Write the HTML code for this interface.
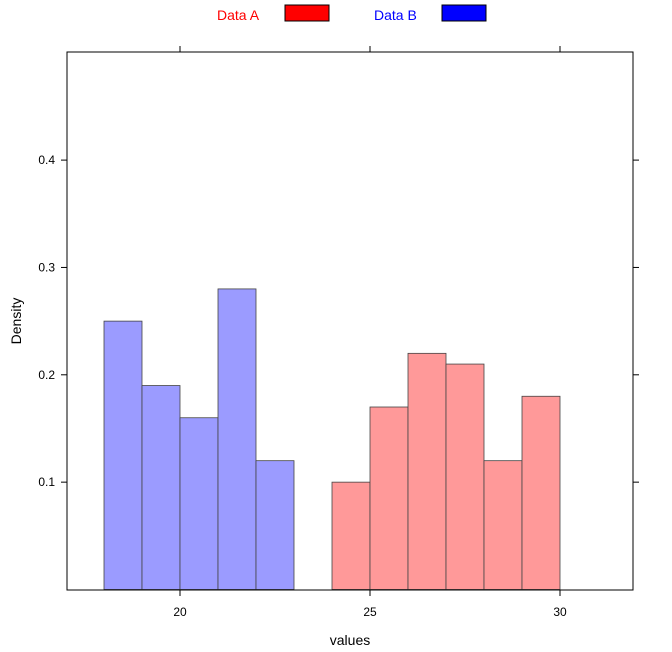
<!DOCTYPE html>
<html><head><meta charset="utf-8"><style>
body{margin:0;background:#fff;}
svg{display:block;font-family:"Liberation Sans",Arial,sans-serif;}
</style></head><body>
<svg id="chart" width="672" height="652" viewBox="0 0 672 652">
<g id="legend">
 <text x="217" y="20" font-size="14" fill="#ff0000">Data A</text>
 <rect x="285" y="5" width="44" height="16" fill="#ff0000" stroke="#000" stroke-width="1"/>
 <text x="374" y="20" font-size="14" fill="#0000ff">Data B</text>
 <rect x="442" y="5" width="44" height="16" fill="#0000ff" stroke="#000" stroke-width="1"/>
</g>
<g id="bars"></g>
<rect x="67" y="52" width="566" height="538" fill="none" stroke="#000" stroke-width="1"/>
<g id="axes"></g>
<text x="350" y="645" font-size="14" text-anchor="middle">values</text>
<text x="21" y="321" font-size="14" text-anchor="middle" transform="rotate(-90 21 321)">Density</text>
</svg>
<script>
const binStartsB = [18, 19, 20, 21, 22];
const densityB = [0.25, 0.19, 0.16, 0.28, 0.12];
const binStartsA = [24, 25, 26, 27, 28, 29];
const densityA = [0.10, 0.17, 0.22, 0.21, 0.12, 0.18];
const binWidth = 1;
const xTicks = [20, 25, 30];
const yTicks = [0.1, 0.2, 0.3, 0.4];

const L=67,R=633,T=52,B=590;
const xs = v => 180 + (v-20)*38;
const ys = v => 589.5 - v*1073.5;
const NS="http://www.w3.org/2000/svg";
const bars=document.getElementById('bars');
function drawBars(starts, vals, fill, name){
  starts.forEach((s,i)=>{
    const r=document.createElementNS(NS,'rect');
    
    
    const x0=xs(s), x1=xs(s+binWidth), y=ys(vals[i]);
    r.setAttribute('x',x0);r.setAttribute('y',y);
    r.setAttribute('width',x1-x0);r.setAttribute('height',ys(0)-y);
    r.setAttribute('fill',fill);r.setAttribute('stroke','#444');r.setAttribute('stroke-width','0.8');
    bars.appendChild(r);
  });
}
drawBars(binStartsB, densityB, '#9b9bff', 'bar-b');
drawBars(binStartsA, densityA, '#ff9999', 'bar-a');
const ax=document.getElementById('axes');
function line(x1,y1,x2,y2,name){
  const l=document.createElementNS(NS,'line');
  
  
  l.setAttribute('x1',x1);l.setAttribute('y1',y1);l.setAttribute('x2',x2);l.setAttribute('y2',y2);
  l.setAttribute('stroke','#000');ax.appendChild(l);
}
function text(x,y,s,anchor,name){
  const t=document.createElementNS(NS,'text');
  
  
  t.setAttribute('x',x);t.setAttribute('y',y);t.setAttribute('font-size','12');
  t.setAttribute('text-anchor',anchor);t.textContent=s;ax.appendChild(t);
}
xTicks.forEach(v=>{
  const x=xs(v);
  line(x,B,x,B+6,'x-tick');
  line(x,T,x,T-6,'x-tick-top');
  text(x,616,String(v),'middle','x-tick-label');
});
yTicks.forEach(v=>{
  const y=ys(v);
  line(L,y,L-6,y,'y-tick');
  line(R,y,R+6,y,'y-tick-right');
  text(L-12,y+4,v.toFixed(1),'end','y-tick-label');
});
</script>
</body></html>
